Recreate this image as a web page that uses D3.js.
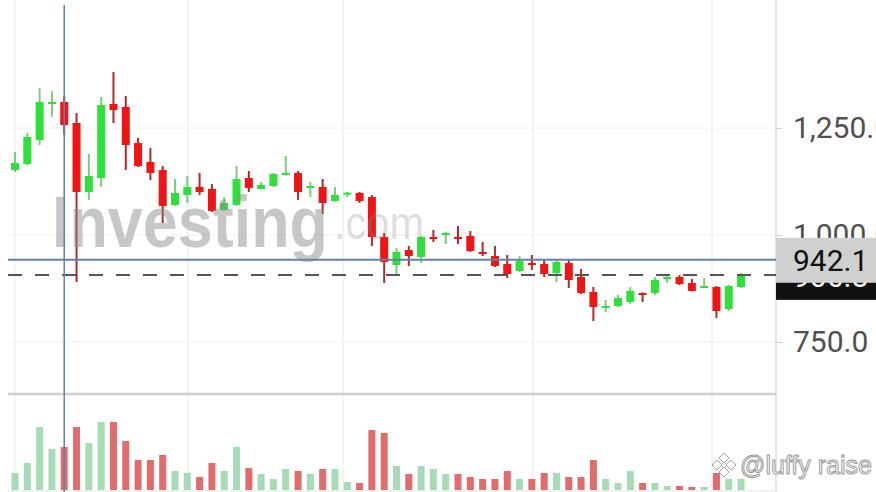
<!DOCTYPE html>
<html><head><meta charset="utf-8">
<script src="https://cdn.jsdelivr.net/npm/d3@7"></script>
<style>
html,body{margin:0;padding:0;background:#fff;overflow:hidden;}
svg{display:block;}
</style></head>
<body>
<svg id="c" width="876" height="492"></svg>
<script>
// ---- data ----
const openV  = [1151.9,1165.9,1222.0,1306.1,1310.7,1261.7,1100.5,1133.2,1306.1,1299.1,1215.0,1170.6,1151.9,1070.1,1093.5,1112.2,1107.5,1058.4,1070.1,1133.2,1107.5,1114.5,1140.2,1144.9,1109.8,1112.2,1079.4,1097.0,1098.1,1088.8,995.3,929.9,965.0,948.6,995.3,1000.0,995.3,997.7,960.3,950.9,932.3,915.9,934.6,932.3,911.2,934.6,901.9,866.8,831.8,834.1,843.5,864.5,864.5,897.2,901.9,887.9,878.5,878.5,827.1,878.5];
const highV  = [1193.9,1238.3,1343.5,1336.4,1324.8,1285.0,1189.3,1322.4,1380.8,1324.8,1226.6,1203.3,1161.2,1130.8,1137.9,1144.9,1119.2,1088.8,1161.2,1149.5,1123.8,1144.9,1184.6,1149.5,1123.8,1130.8,1112.2,1100.5,1100.5,1093.5,1004.7,969.6,974.3,997.7,1011.7,1007.0,1021.0,1009.4,983.7,974.3,953.3,950.9,953.3,943.9,943.9,943.9,920.6,878.5,848.1,859.8,878.5,866.0,901.9,906.6,906.6,897.2,899.5,880.9,883.2,911.2];
const lowV   = [1147.2,1163.0,1210.3,1275.7,1233.6,890.2,1081.8,1112.2,1261.7,1151.9,1158.9,1128.5,1028.0,1068.0,1074.8,1093.5,1053.7,1056.1,1067.8,1100.5,1106.0,1112.2,1139.0,1081.8,1088.8,1049.1,1078.0,1088.8,1074.8,974.3,887.9,904.2,927.6,934.6,983.7,979.0,979.0,960.3,950.9,925.2,899.5,913.6,918.2,901.9,890.2,876.2,862.2,799.1,820.1,831.8,838.8,843.5,859.8,887.9,883.2,868.0,877.0,806.1,822.4,876.2];
const closeV = [1168.2,1229.0,1310.7,1310.7,1257.0,1100.5,1137.9,1303.7,1292.1,1210.3,1161.2,1144.9,1067.8,1098.1,1112.2,1100.5,1056.1,1074.8,1130.8,1109.8,1116.8,1142.5,1144.9,1100.5,1114.5,1074.8,1093.5,1099.0,1079.4,995.3,936.9,960.3,950.9,995.3,993.0,1004.7,990.7,962.6,955.6,927.6,908.9,939.3,929.9,908.9,936.9,894.9,864.5,831.8,834.1,852.8,869.2,859.8,894.9,901.9,885.5,869.2,880.9,822.4,880.9,906.8];
const volume = [170,270,630,410,430,630,470,680,680,490,300,300,350,190,170,130,270,190,430,220,160,110,210,190,160,210,210,80,70,600,570,240,160,240,210,160,160,130,110,110,190,110,110,170,170,130,130,300,110,70,190,70,70,40,40,30,30,170,110,110];
const volUp  = [1,1,1,1,0,0,1,1,0,0,0,0,0,1,1,0,0,1,1,0,1,1,1,0,1,0,1,1,0,0,0,1,0,1,1,1,0,0,0,0,0,1,0,0,1,0,0,0,1,1,1,0,1,1,0,0,1,0,1,1];
const priceTicks = [750, 1000, 1250];
const dateGridIdx = [0, 14.06, 26.66, 42.1, 56.64];
const crossIdx = 4;
const crossPrice = 942.1;
const lastClose = closeV[closeV.length - 1];

const data = openV.map((o, i) => ({i, o, h: highV[i], l: lowV[i], c: closeV[i], v: volume[i], up: volUp[i]}));

// ---- layout ----
const svg = d3.select("#c");
const L = 8, R = 776, vTop = 395, vBot = 490;

const x = d3.scaleLinear().domain([-0.57, 61.84]).range([L, R]);
const y = d3.scaleLinear().domain([750, 1250]).range([342, 128]);
const yv = d3.scaleLinear().domain([0, 950]).range([vBot, vTop]);

// grid
const grid = svg.append("g");
grid.selectAll("line.h").data(priceTicks).join("line")
  .attr("x1", L).attr("x2", R).attr("y1", d => y(d)).attr("y2", d => y(d))
  .attr("stroke", "#f0f0f0").attr("stroke-width", 1);
grid.selectAll("line.v").data(dateGridIdx).join("line")
  .attr("x1", d => x(d)).attr("x2", d => x(d)).attr("y1", 0).attr("y2", vBot)
  .attr("stroke", "#f0f0f0").attr("stroke-width", 1.5);

// panel borders
svg.append("line").attr("x1", R).attr("x2", R).attr("y1", 0).attr("y2", 492)
  .attr("stroke", "#dcdcdc").attr("stroke-width", 1.5);
svg.append("line").attr("x1", L).attr("x2", R).attr("y1", 394).attr("y2", 394)
  .attr("stroke", "#cfcfcf").attr("stroke-width", 2.5);
svg.append("line").attr("x1", L).attr("x2", R).attr("y1", 491).attr("y2", 491)
  .attr("stroke", "#eeeeee").attr("stroke-width", 1.5);

// volume
svg.append("g").selectAll("rect").data(data).join("rect")
  .attr("x", d => x(d.i) - 3.5).attr("width", 7)
  .attr("y", d => yv(d.v)).attr("height", d => vBot - yv(d.v))
  .attr("fill", d => d.up ? "#a7dbb5" : "#e06c6c");

// candles
const cg = svg.append("g");
cg.selectAll("line").data(data).join("line")
  .attr("x1", d => x(d.i)).attr("x2", d => x(d.i))
  .attr("y1", d => y(d.h)).attr("y2", d => y(d.l))
  .attr("stroke", d => d.c >= d.o ? "#7dcc7d" : "#b02a2a").attr("stroke-width", 2);
cg.selectAll("rect").data(data).join("rect")
  .attr("x", d => x(d.i) - 4).attr("width", 8)
  .attr("y", d => y(Math.max(d.o, d.c)))
  .attr("height", d => Math.max(2, Math.abs(y(d.o) - y(d.c))))
  .attr("fill", d => d.c >= d.o ? "#2ee03a" : "#f01414");

// watermark
svg.append("text").attr("x", 52).attr("y", 247)
  .attr("font-family", "Liberation Sans, Arial, sans-serif").attr("font-weight", "bold")
  .attr("font-size", 72).attr("textLength", 276).attr("lengthAdjust", "spacingAndGlyphs")
  .attr("fill", "#8a8a8a").attr("fill-opacity", 0.48).text("Investing");
svg.append("text").attr("x", 334).attr("y", 239)
  .attr("font-family", "Liberation Sans, Arial, sans-serif")
  .attr("font-size", 46).attr("textLength", 90).attr("lengthAdjust", "spacingAndGlyphs")
  .attr("fill", "#8a8a8a").attr("fill-opacity", 0.3).text(".com");

// dashed last-close line
svg.append("line").attr("x1", L).attr("x2", R).attr("y1", y(lastClose)).attr("y2", y(lastClose))
  .attr("stroke", "#555").attr("stroke-width", 2).attr("stroke-dasharray", "14,13");

// crosshair
svg.append("line").attr("x1", x(crossIdx)).attr("x2", x(crossIdx)).attr("y1", 5).attr("y2", 492)
  .attr("stroke", "#5f84a8").attr("stroke-width", 1.5);
svg.append("line").attr("x1", L).attr("x2", R).attr("y1", y(crossPrice)).attr("y2", y(crossPrice))
  .attr("stroke", "#5f84a8").attr("stroke-width", 2);

// right axis
const ax = svg.append("g").attr("transform", `translate(${R},0)`)
  .call(d3.axisRight(y).tickValues(priceTicks).tickFormat(d3.format(",.1f")).tickSize(6).tickPadding(11));
ax.select(".domain").remove();
ax.selectAll("line").attr("stroke", "#cfcfcf");
ax.selectAll("text").attr("font-family", "Roboto, sans-serif").attr("font-size", 30).attr("fill", "#505050");

// last close label (black) and crosshair label (gray)
svg.append("rect").attr("x", R).attr("y", y(lastClose) - 14).attr("width", 100).attr("height", 39).attr("fill", "#111");
svg.append("text").attr("x", 793).attr("y", y(lastClose) + 2).attr("dy", "0.35em")
  .attr("font-family", "Roboto, sans-serif").attr("font-size", 30).attr("fill", "#fff")
  .text(d3.format(".1f")(lastClose));
svg.append("rect").attr("x", R).attr("y", y(crossPrice) - 22).attr("width", 100).attr("height", 45).attr("fill", "#d0d0d0");
svg.append("text").attr("x", 793).attr("y", y(crossPrice) + 1).attr("dy", "0.35em")
  .attr("font-family", "Roboto, sans-serif").attr("font-size", 30).attr("fill", "#111")
  .text(d3.format(".1f")(crossPrice));

// user watermark
const wm = svg.append("g").attr("transform", "translate(724,465)").attr("fill", "#fff").attr("stroke", "#a0a0a0").attr("stroke-width", 1);
wm.append("path").attr("d", "M0,-12 L5,-7 L0,-2 L-5,-7 Z");
wm.append("path").attr("d", "M-7,-5 L-2,0 L-7,5 L-12,0 Z");
wm.append("path").attr("d", "M7,-5 L12,0 L7,5 L2,0 Z");
wm.append("path").attr("d", "M0,2 L5,7 L0,12 L-5,7 Z");
wm.append("path").attr("d", "M0,-3 L3,0 L0,3 L-3,0 Z");
svg.append("text").attr("x", 740).attr("y", 474)
  .attr("font-family", "Liberation Sans, Arial, sans-serif").attr("font-size", 25)
  .attr("fill", "#fff").attr("stroke", "#9a9a9a").attr("stroke-width", 1)
  .text("@luffy raise");
</script>
</body></html>
